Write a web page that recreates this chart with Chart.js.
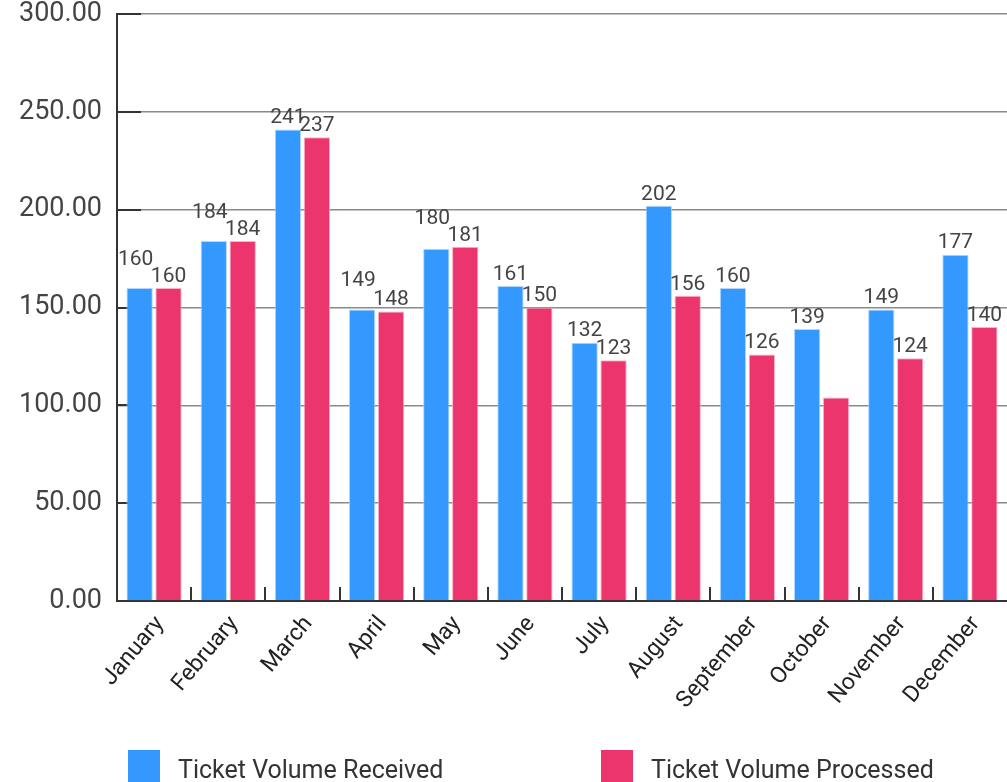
<!DOCTYPE html>
<html>
<head>
<meta charset="utf-8">
<script src="https://cdn.jsdelivr.net/npm/chart.js@4.4.0/dist/chart.umd.min.js"></script>
<style>
    html, body { margin: 0; padding: 0; background: #fff; overflow: hidden; }
    #wrap { position: relative; width: 1007px; height: 782px; }
    #legend { position: absolute; left: 0; top: 750px; display: flex; padding-left: 128px; font-family: Roboto, sans-serif; font-size: 25px; color: #333; }
    .item { display: flex; align-items: center; width: 473px; height: 32px; }
    .item span { position: relative; top: 3px; }
    .box { width: 32px; height: 32px; margin-right: 18px; }
</style>
</head>
<body>
<div id="wrap">
    <canvas id="ticketChart" width="1007" height="782"></canvas>
    <div id="legend"></div>
</div>
<script>
// Данные графика
var months = ["January", "February", "March", "April", "May", "June", "July", "August", "September", "October", "November", "December"];
var received = [160, 184, 241, 149, 180, 161, 132, 202, 160, 139, 149, 177];
var processed = [160, 184, 237, 148, 181, 150, 123, 156, 126, 104, 124, 140];
var seriesNames = ["Ticket Volume Received", "Ticket Volume Processed"];
var seriesColors = ["#3399ff", "#ec356c"];
var yTicks = [0, 50, 100, 150, 200, 250, 300];
// подпись октября (обработано) в оригинале не показана
var hiddenLabels = [[1, 9]];

// подписи значений над столбцами
var valueLabels = {
    id: 'valueLabels',
    afterDatasetsDraw: function (chart) {
        var ctx = chart.ctx;
        ctx.save();
        ctx.font = '21px Roboto';
        ctx.fillStyle = '#444';
        ctx.textAlign = 'center';
        ctx.textBaseline = 'bottom';
        var metaA = chart.getDatasetMeta(0);
        var metaB = chart.getDatasetMeta(1);
        for (var i = 0; i < months.length; i++) {
            var a = metaA.data[i], b = metaB.data[i];
            var ya = a.y - 1, yb = b.y - 1, xa = a.x;
            // если подписи сталкиваются - поднимаем синюю
            if (Math.abs(ya - yb) < 6) {
                ya = Math.min(ya, yb) - 17;
                xa -= 4;
            }
            ctx.fillText(String(received[i]), xa, ya);
            var hidden = hiddenLabels.some(function (h) { return h[0] === 1 && h[1] === i; });
            if (!hidden) ctx.fillText(String(processed[i]), b.x, yb);
        }
        ctx.restore();
    }
};

// короткие засечки внутрь области графика
var innerTicks = {
    id: 'innerTicks',
    beforeDatasetsDraw: function (chart) {
        var ctx = chart.ctx;
        var area = chart.chartArea;
        var x = chart.scales.x, y = chart.scales.y;
        ctx.save();
        ctx.strokeStyle = '#333';
        ctx.lineWidth = 2;
        ctx.beginPath();
        yTicks.forEach(function (v) {
            var py = Math.round(y.getPixelForValue(v));
            ctx.moveTo(area.left, py);
            ctx.lineTo(area.left + 24, py);
        });
        for (var i = 1; i < months.length; i++) {
            var px = Math.round((x.getPixelForValue(i - 1) + x.getPixelForValue(i)) / 2);
            ctx.moveTo(px, area.bottom);
            ctx.lineTo(px, area.bottom - 14);
        }
        ctx.stroke();
        ctx.restore();
    }
};

function buildLegend() {
    var legend = document.getElementById('legend');
    seriesNames.forEach(function (name, i) {
        var item = document.createElement('div');
        item.className = 'item';
        var box = document.createElement('div');
        box.className = 'box';
        box.style.background = seriesColors[i];
        var txt = document.createElement('span');
        txt.textContent = name;
        item.appendChild(box);
        item.appendChild(txt);
        legend.appendChild(item);
    });
}

function ticketChartGraph() {
    var canvas = document.getElementById("ticketChart");

    Chart.defaults.font.family = "Roboto";

    var chartData = {
        labels: months,
        datasets: [{
            label: seriesNames[0],
            data: received,
            backgroundColor: seriesColors[0],
            borderColor: 'rgba(170, 210, 255, 0.9)',
            borderWidth: 1
        }, {
            label: seriesNames[1],
            data: processed,
            backgroundColor: seriesColors[1],
            borderColor: 'rgba(250, 170, 195, 0.9)',
            borderWidth: 1
        }]
    };

    var chartOptions = {
        responsive: false,
        animation: false,
        layout: { padding: 0 },
        categoryPercentage: 0.78,
        barPercentage: 0.91,
        plugins: {
            legend: { display: false },
            tooltip: { enabled: false }
        },
        scales: {
            x: {
                grid: { display: false, drawTicks: false },
                border: { display: true, color: '#333', width: 2 },
                ticks: {
                    color: '#222',
                    font: { size: 23 },
                    minRotation: 50,
                    maxRotation: 50,
                    padding: 10,
                    labelOffset: 6,
                    autoSkip: false
                },
                afterFit: function (scale) {
                    scale.height = 181;
                    scale.paddingRight = 0;
                    scale.paddingLeft = 0;
                }
            },
            y: {
                min: 0,
                max: 300,
                grid: { color: '#8a8a8a', lineWidth: 1.5, drawTicks: false },
                border: { display: true, color: '#333', width: 2 },
                ticks: {
                    stepSize: 50,
                    color: '#444',
                    font: { size: 27 },
                    padding: 15,
                    callback: function (v) { return v.toFixed(2); }
                },
                afterFit: function (scale) {
                    scale.width = 117;
                    scale.paddingTop = 14;
                    scale.paddingBottom = 0;
                }
            }
        }
    };

    new Chart(canvas, {
        type: 'bar',
        data: chartData,
        options: chartOptions,
        plugins: [innerTicks, valueLabels]
    });
}

buildLegend();
ticketChartGraph();
</script>
</body>
</html>
